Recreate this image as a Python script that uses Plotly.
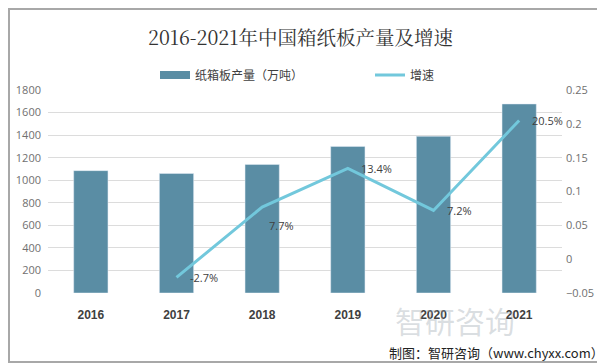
import plotly.graph_objects as go

years = ["2016", "2017", "2018", "2019", "2020", "2021"]
output = [1085, 1060, 1140, 1300, 1390, 1676]
growth_years = ["2017", "2018", "2019", "2020", "2021"]
growth = [-0.027, 0.077, 0.134, 0.072, 0.205]
growth_labels = ["-2.7%", "7.7%", "13.4%", "7.2%", "20.5%"]

BAR_COLOR = "#5a8da4"
LINE_COLOR = "#72c8dc"

# The page body has an 8px margin; figure is sized to the remaining window.
W, H = 597, 356
L, R, T, B = 40, 43, 82, 71
PW, PH = W - L - R, H - T - B

fig = go.Figure()
fig.add_trace(go.Bar(
    x=years, y=output, name="纸箱板产量（万吨）",
    marker=dict(color=BAR_COLOR), width=0.4, showlegend=False,
))
# legend proxy with a wide rectangle symbol like the reference
fig.add_trace(go.Scatter(
    x=[None], y=[None], mode="lines", name="纸箱板产量（万吨）",
    line=dict(color=BAR_COLOR, width=8),
))
fig.add_trace(go.Scatter(
    x=growth_years, y=growth, name="增速", yaxis="y2",
    mode="lines", line=dict(color=LINE_COLOR, width=3),
))

label_shift = [(11, 0), (5, -18), (11, 0), (11, 0), (11, 0)]
annotations = []
for yr, g, t, (dx, dy) in zip(growth_years, growth, growth_labels, label_shift):
    annotations.append(dict(
        x=years.index(yr), y=g, xref="x", yref="y2", text=t, showarrow=False,
        xanchor="left", yanchor="middle", xshift=dx, yshift=dy,
        font=dict(size=11, color="#404040", family="Open Sans, sans-serif"),
    ))
annotations += [
    dict(text="制图：智研咨询（www.chyxx.com）", xref="paper", yref="paper",
         x=(598 - L) / PW, y=(H - B - 344) / PH,
         xanchor="right", yanchor="middle", showarrow=False,
         font=dict(size=13, color="#222222", family="Noto Sans CJK SC")),
    dict(text="智研咨询", xref="paper", yref="paper",
         x=(447 - L) / PW, y=(H - B - 312) / PH,
         xanchor="center", yanchor="middle", showarrow=False,
         font=dict(size=30, color="rgba(150,160,170,0.35)", family="Noto Sans CJK SC")),
]

fig.update_layout(
    width=W, height=H,
    margin=dict(l=L, r=R, t=T, b=B, autoexpand=False),
    paper_bgcolor="white", plot_bgcolor="white",
    title=dict(text="2016-2021年中国箱纸板产量及增速", x=0.5 - 6 / W, xanchor="center",
               y=1 - 30 / H, yanchor="middle",
               font=dict(size=19.5, color="#333333",
                         family="Noto Serif CJK SC, Noto Sans CJK SC, serif")),
    legend=dict(orientation="h", xref="container", yref="container",
                x=147 / W, xanchor="left", y=1 - 67 / H, yanchor="middle",
                bgcolor="rgba(0,0,0,0)",
                font=dict(size=12, color="#404040", family="Noto Sans CJK SC"),
                itemwidth=30, entrywidthmode="pixels", entrywidth=170),
    showlegend=True,
    bargap=0.6,
    xaxis=dict(type="category", categoryorder="array", categoryarray=years,
               range=[-0.5, len(years) - 0.5],
               tickfont=dict(size=12, color="#404040", family="Liberation Sans, Arial",
                             weight="bold"),
               showline=False, ticks="", showgrid=False, ticklabelstandoff=13),
    yaxis=dict(range=[0, 1800], dtick=200, gridcolor="#dcdcdc", zeroline=False,
               tickfont=dict(size=11, color="#707070", family="Open Sans, sans-serif"),
               ticklabelstandoff=6),
    yaxis2=dict(range=[-0.05, 0.25], dtick=0.05, overlaying="y", side="right",
                showgrid=False, zeroline=False, tickformat="~g",
                tickfont=dict(size=11, color="#707070", family="Open Sans, sans-serif"),
                ticklabelstandoff=3),
    shapes=[dict(type="rect", xref="paper", yref="paper",
                 x0=(1 - L) / PW, x1=(595 - L) / PW,
                 y0=(H - B - 354) / PH, y1=(H - B - 1) / PH,
                 line=dict(color="#a8a8a8", width=2), fillcolor="rgba(0,0,0,0)")],
    annotations=annotations,
)

fig.write_html("out.html")
